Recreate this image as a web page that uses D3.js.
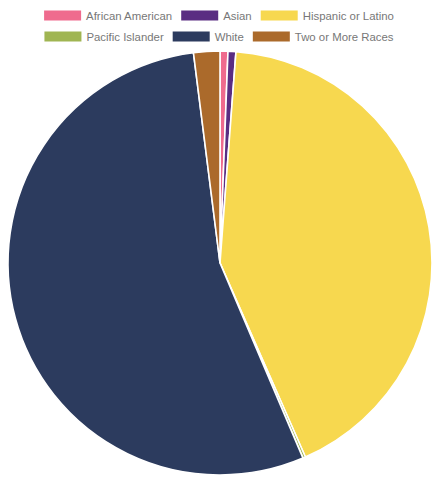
<!DOCTYPE html>
<html>
<head>
<meta charset="utf-8">
<script src="https://cdn.jsdelivr.net/npm/d3@7"></script>
<style>
  html, body { margin: 0; padding: 0; background: #fff; }
  svg { display: block; }
</style>
</head>
<body>
<svg id="chart" width="435" height="478"></svg>
<script>
// Share of population by race / ethnicity (%)
const categories = ["African American", "Asian", "Hispanic or Latino", "Pacific Islander", "White", "Two or More Races"];
const values = [0.6, 0.6, 42.2, 0.2, 54.4, 2.0];
const colors = ["#ef6b8e", "#5a2d82", "#f7d84f", "#a0b552", "#2c3b5e", "#ab6a2b"];

const W = 435, H = 478;
const svg = d3.select("#chart");

const color = d3.scaleOrdinal().domain(categories).range(colors);
const data = categories.map((c, i) => ({ cat: c, value: values[i] }));

// Pie
const cx = 220, cy = 263, R = 212;
const pie = d3.pie().value(d => d.value).sort(null);
const arc = d3.arc().innerRadius(0).outerRadius(R);

svg.append("g")
  .attr("transform", `translate(${cx},${cy})`)
  .selectAll("path")
  .data(pie(data))
  .join("path")
  .attr("d", arc)
  .attr("fill", d => color(d.data.cat))
  .attr("stroke", "#fff")
  .attr("stroke-width", 1.6)
  .attr("stroke-linejoin", "round");

// Legend: two centered rows
const fontSize = 11.4, boxW = 37, boxH = 10, textGap = 5, itemGap = 9;
const rows = [categories.slice(0, 3), categories.slice(3)];
const rowY = [15.5, 36.5];

const measure = svg.append("text")
  .attr("font-family", "'Liberation Sans', Arial, Helvetica, sans-serif")
  .attr("font-size", fontSize);

rows.forEach((row, ri) => {
  const widths = row.map(c => {
    measure.text(c);
    return boxW + textGap + measure.node().getComputedTextLength();
  });
  const total = d3.sum(widths) + itemGap * (row.length - 1);
  let x = (W - total) / 2 + 1.5;
  row.forEach((c, i) => {
    const g = svg.append("g").attr("transform", `translate(${x},${rowY[ri]})`);
    g.append("rect")
      .attr("x", 0).attr("y", -boxH / 2)
      .attr("width", boxW).attr("height", boxH)
      .attr("fill", color(c));
    g.append("text")
      .attr("x", boxW + textGap).attr("y", 0)
      .attr("dy", "0.35em")
      .attr("font-family", "'Liberation Sans', Arial, Helvetica, sans-serif")
      .attr("font-size", fontSize)
      .attr("fill", "#777")
      .text(c);
    x += widths[i] + itemGap;
  });
});
measure.remove();
</script>
</body>
</html>
